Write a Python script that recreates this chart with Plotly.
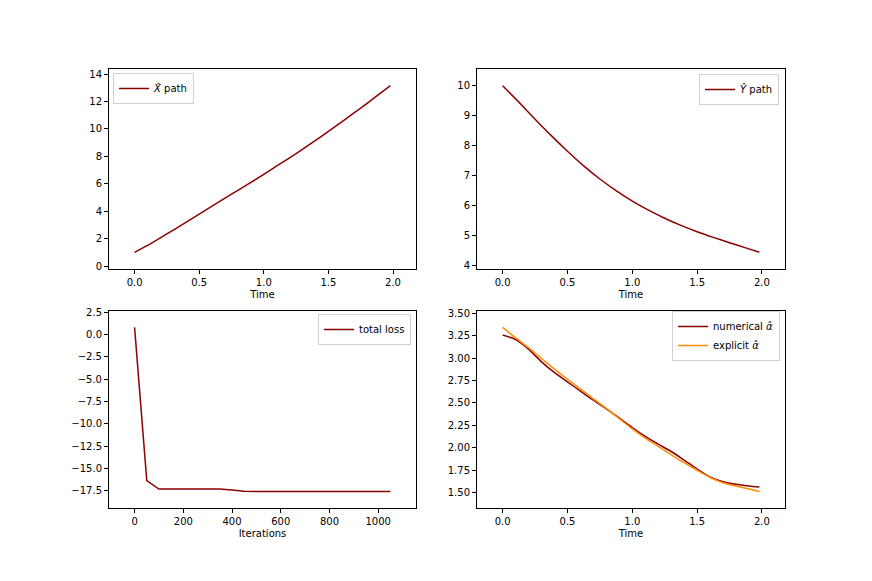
"""Four panel figure: state paths, training loss and control comparison"""

import plotly.graph_objects as go

# time grid used for the two state paths
time_x = [0.0, 0.125, 0.25, 0.375, 0.5, 0.625, 0.75, 0.875, 1.0,
          1.125, 1.25, 1.375, 1.5, 1.625, 1.75, 1.875, 1.98]
x_path = [1.0, 1.63, 2.34, 3.05, 3.78, 4.51, 5.24, 5.95, 6.68,
          7.44, 8.20, 8.99, 9.82, 10.66, 11.52, 12.40, 13.15]

time_y = [0.0, 0.125, 0.25, 0.375, 0.5, 0.625, 0.75, 0.875, 1.0,
          1.125, 1.25, 1.375, 1.5, 1.625, 1.75, 1.875, 1.98]
y_path = [10.0, 9.45, 8.88, 8.33, 7.81, 7.32, 6.88, 6.49, 6.14,
          5.84, 5.57, 5.33, 5.12, 4.93, 4.75, 4.58, 4.43]

# loss recorded every 50 iterations
iterations = [0, 50, 100, 150, 200, 250, 300, 350, 400, 450, 500,
              550, 600, 650, 700, 750, 800, 850, 900, 950, 1000, 1050]
total_loss = [0.8, -16.35, -17.3, -17.3, -17.3, -17.3, -17.3, -17.3,
              -17.4, -17.55, -17.57, -17.57, -17.57, -17.57, -17.57,
              -17.57, -17.57, -17.57, -17.57, -17.55, -17.55, -17.58]

# control: numerical vs explicit
time_alpha = [0.0, 0.1, 0.2, 0.3, 0.4, 0.5, 0.6, 0.7, 0.8, 0.9, 1.0,
              1.1, 1.2, 1.3, 1.4, 1.5, 1.6, 1.7, 1.8, 1.9, 1.98]
alpha_num = [3.258, 3.207, 3.10, 2.958, 2.837, 2.734, 2.632, 2.53, 2.434,
             2.33, 2.225, 2.126, 2.04, 1.958, 1.862, 1.762, 1.675, 1.621,
             1.592, 1.573, 1.562]
alpha_exp = [3.342, 3.225, 3.115, 2.995, 2.877, 2.764, 2.657, 2.544, 2.438,
             2.324, 2.21, 2.108, 2.016, 1.921, 1.833, 1.749, 1.668, 1.61,
             1.573, 1.54, 1.511]

time_ticks = [0.0, 0.5, 1.0, 1.5, 2.0]
iter_ticks = [0, 200, 400, 600, 800, 1000]
x_ticks = [0, 2, 4, 6, 8, 10, 12, 14]
y_ticks = [4, 5, 6, 7, 8, 9, 10]
loss_ticks = [-17.5, -15.0, -12.5, -10.0, -7.5, -5.0, -2.5, 0.0, 2.5]
alpha_ticks = [1.50, 1.75, 2.00, 2.25, 2.50, 2.75, 3.00, 3.25, 3.50]

DARKRED = "#8b0000"
ORANGE = "#ff8c00"
FONT = "DejaVu Sans"
W, H = 872, 581
OFF = 8  # page body margin shifts the figure by this many px


def padded(values, frac=0.1):
    lo, hi = min(values), max(values)
    span = hi - lo
    return [lo - frac * span, hi + frac * span]


def fmt(vals, digits):
    return [f"{v:.{digits}f}".replace("-", "\u2212") for v in vals]


def xdom(a, b):
    return [(a - OFF) / W, (b - OFF) / W]


def ydom(top, bottom):
    return [1 - (bottom - OFF) / H, 1 - (top - OFF) / H]


fig = go.Figure()

smooth = dict(shape="spline", smoothing=0.6)
fig.add_trace(go.Scatter(x=time_x, y=x_path, mode="lines", name="<i>X̂</i> path",
                         line=dict(color=DARKRED, width=1.5, **smooth),
                         xaxis="x", yaxis="y", legend="legend", showlegend=True))
fig.add_trace(go.Scatter(x=time_y, y=y_path, mode="lines", name="<i>Ŷ</i> path",
                         line=dict(color=DARKRED, width=1.5, **smooth),
                         xaxis="x2", yaxis="y2", legend="legend2"))
fig.add_trace(go.Scatter(x=iterations, y=total_loss, mode="lines", name="total loss",
                         line=dict(color=DARKRED, width=1.5),
                         xaxis="x3", yaxis="y3", legend="legend3"))
fig.add_trace(go.Scatter(x=time_alpha, y=alpha_num, mode="lines",
                         name="numerical <i>α̂</i>",
                         line=dict(color=DARKRED, width=1.5, **smooth),
                         xaxis="x4", yaxis="y4", legend="legend4"))
fig.add_trace(go.Scatter(x=time_alpha, y=alpha_exp, mode="lines",
                         name="explicit <i>α̂</i>",
                         line=dict(color=ORANGE, width=1.5, **smooth),
                         xaxis="x4", yaxis="y4", legend="legend4"))

axis_style = dict(showline=True, mirror=True, linecolor="black", linewidth=1,
                  ticks="outside", ticklen=4, tickwidth=1, tickcolor="black",
                  showgrid=False, zeroline=False, automargin=False,
                  tickfont=dict(family=FONT, size=10, color="black"))

col_left = xdom(109, 416)
col_right = xdom(477, 785)
row_top = ydom(69, 269)
row_bottom = ydom(311, 508)

title_font = dict(family=FONT, size=10, color="black")

fig.update_layout(
    width=W, height=H,
    margin=dict(l=0, r=0, t=0, b=0),
    paper_bgcolor="white", plot_bgcolor="white",
    showlegend=True,
    font=dict(family=FONT, size=10, color="black"),
    xaxis=dict(axis_style, domain=col_left, anchor="y",
               range=padded(time_x), tickvals=time_ticks,
               ticktext=fmt(time_ticks, 1),
               title=dict(text="Time", font=title_font, standoff=3)),
    yaxis=dict(axis_style, domain=row_top, anchor="x",
               range=padded(x_path), tickvals=x_ticks,
               ticktext=[str(v) for v in x_ticks]),
    xaxis2=dict(axis_style, domain=col_right, anchor="y2",
                range=padded(time_y), tickvals=time_ticks,
                ticktext=fmt(time_ticks, 1),
                title=dict(text="Time", font=title_font, standoff=3)),
    yaxis2=dict(axis_style, domain=row_top, anchor="x2",
                range=padded(y_path), tickvals=y_ticks,
                ticktext=[str(v) for v in y_ticks]),
    xaxis3=dict(axis_style, domain=col_left, anchor="y3",
                range=padded(iterations), tickvals=iter_ticks,
                ticktext=[str(v) for v in iter_ticks],
                title=dict(text="Iterations", font=title_font, standoff=3)),
    yaxis3=dict(axis_style, domain=row_bottom, anchor="x3",
                range=padded(total_loss), tickvals=loss_ticks,
                ticktext=fmt(loss_ticks, 1)),
    xaxis4=dict(axis_style, domain=col_right, anchor="y4",
                range=padded(time_alpha), tickvals=time_ticks,
                ticktext=fmt(time_ticks, 1),
                title=dict(text="Time", font=title_font, standoff=3)),
    yaxis4=dict(axis_style, domain=row_bottom, anchor="x4",
                range=padded(alpha_num + alpha_exp), tickvals=alpha_ticks,
                ticktext=fmt(alpha_ticks, 2)),
)

legend_style = dict(bgcolor="rgba(255,255,255,0.8)", bordercolor="#d0d0d0",
                    borderwidth=1, itemwidth=30,
                    font=dict(family=FONT, size=10, color="black"))

fig.update_layout(
    legend=dict(legend_style, x=(113 - OFF) / W, y=1 - (73 - OFF) / H,
                xanchor="left", yanchor="top"),
    legend2=dict(legend_style, x=(779 - OFF) / W, y=1 - (74 - OFF) / H,
                 xanchor="right", yanchor="top"),
    legend3=dict(legend_style, x=(411 - OFF) / W, y=1 - (314 - OFF) / H,
                 xanchor="right", yanchor="top"),
    legend4=dict(legend_style, x=(780 - OFF) / W, y=1 - (311 - OFF) / H,
                 xanchor="right", yanchor="top"),
)

fig.write_html("out.html")
